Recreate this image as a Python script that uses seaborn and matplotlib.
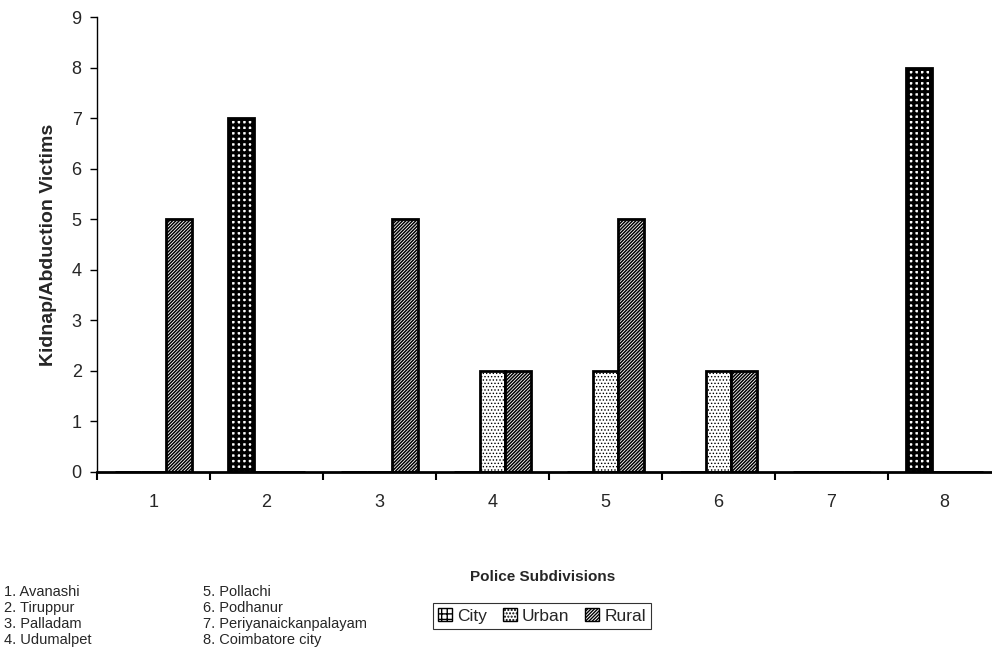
import matplotlib
matplotlib.use("Agg")
import matplotlib.pyplot as plt
from matplotlib.patches import Patch
import seaborn as sns
import pandas as pd

subdivisions = ["1", "2", "3", "4", "5", "6", "7", "8"]
series_names = ["City", "Urban", "Rural"]
city = [0, 7, 0, 0, 0, 0, 0, 8]
urban = [0, 0, 0, 2, 2, 2, 0, 0]
rural = [5, 0, 5, 2, 5, 2, 0, 0]
footnotes_left = ["1. Avanashi", "2. Tiruppur", "3. Palladam", "4. Udumalpet"]
footnotes_right = ["5. Pollachi", "6. Podhanur", "7. Periyanaickanpalayam", "8. Coimbatore city"]

rows = []
for name, vals in zip(series_names, [city, urban, rural]):
    for s, v in zip(subdivisions, vals):
        rows.append({"Subdivision": s, "Type": name, "Victims": v})
df = pd.DataFrame(rows)

sns.set_theme(style="white")
plt.rcParams["font.family"] = ["Liberation Sans", "DejaVu Sans"]

fig = plt.figure(figsize=(9.92, 6.49), dpi=100)
ax = fig.add_axes([97 / 992, 177 / 649, 904 / 992, 455 / 649])

sns.barplot(data=df, x="Subdivision", y="Victims", hue="Type",
            order=subdivisions, hue_order=series_names,
            palette=["white", "white", "white"], edgecolor="black",
            linewidth=2.0, width=0.69, ax=ax, legend=False)

hatches = {"City": "+++", "Urban": ".....", "Rural": "//////////"}
hatch_lw = {"City": 2.2, "Urban": 0.6, "Rural": 1.1}
for cont, name in zip(ax.containers, series_names):
    for p in cont.patches:
        p.set_hatch(hatches[name])
        if hasattr(p, "set_hatch_linewidth"):
            p.set_hatch_linewidth(hatch_lw[name])

ax.set_xlim(-0.5, 7.5)
ax.set_ylim(0, 9)
ax.set_yticks(range(0, 10))
ax.set_yticklabels([str(i) for i in range(0, 10)], fontsize=13)

ax.set_xticks([i - 0.5 for i in range(8)])
ax.set_xticklabels([""] * 8)
ax.set_xticks(range(8), minor=True)
ax.set_xticklabels(subdivisions, minor=True, fontsize=13)
ax.tick_params(axis="x", which="major", direction="out", length=6, width=1.5,
               color="black", bottom=True)
ax.tick_params(axis="x", which="minor", length=0, pad=16)
ax.tick_params(axis="y", direction="out", length=5, width=1, color="black",
               left=True, pad=6)

for s in ["top", "right"]:
    ax.spines[s].set_visible(False)
ax.spines["left"].set_color("black")
ax.spines["left"].set_linewidth(1.0)
ax.spines["bottom"].set_color("black")
ax.spines["bottom"].set_linewidth(2.0)

ax.set_xlabel("")
ax.set_ylabel("Kidnap/Abduction Victims", fontsize=14, fontweight="bold")
ax.yaxis.set_label_coords(-0.044, 0.5)

fig.text(543 / 992, 1 - 577 / 649, "Police Subdivisions", fontsize=11,
         fontweight="bold", ha="center", va="center")

for i, (a, b) in enumerate(zip(footnotes_left, footnotes_right)):
    y = 1 - (592 + 16 * i) / 649
    fig.text(4 / 992, y, a, fontsize=10.5, ha="left", va="center")
    fig.text(203 / 992, y, b, fontsize=10.5, ha="left", va="center")

handles = [Patch(facecolor="white", edgecolor="black", hatch=hatches[n], label=n)
           for n in series_names]
leg = fig.legend(handles=handles, loc="center", bbox_to_anchor=(542 / 992, 1 - 616 / 649),
                 ncol=3, frameon=True, prop={"size": 12.5},
                 handlelength=0.8, handleheight=0.8,
                 handletextpad=0.3, columnspacing=0.9, borderpad=0.3, fancybox=False,
                 borderaxespad=0)
leg.get_frame().set_edgecolor("black")
leg.get_frame().set_linewidth(0.8)

fig.savefig("out.png", dpi=100)
